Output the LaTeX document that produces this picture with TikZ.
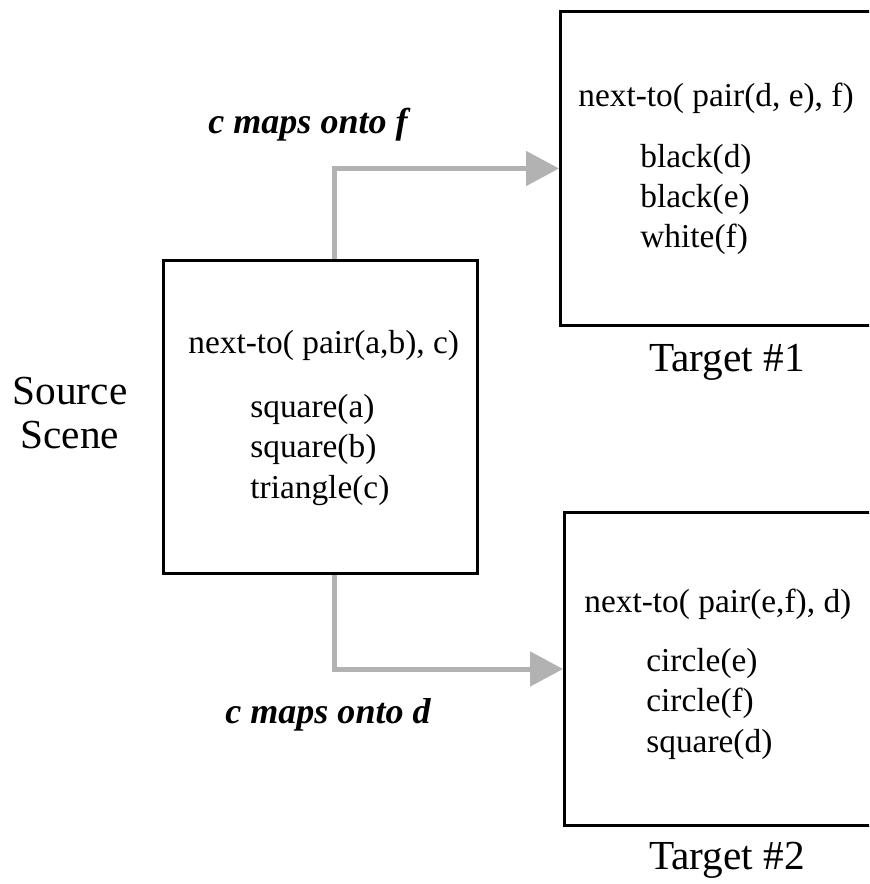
\documentclass[tikz,border=0pt]{standalone}
\usepackage{fontspec}
\setmainfont{Liberation Serif}
\usetikzlibrary{arrows.meta, positioning}

\begin{document}
\begin{tikzpicture}[x=0.02cm, y=-0.02cm,
    scene/.style={draw, line width=0.06cm, minimum width=6.28cm, minimum height=6.28cm, inner sep=0pt},
    wide/.style={scene, minimum width=6.76cm},
    facts/.style={anchor=base west, align=left, inner sep=0pt, font=\fontsize{19}{22.8}\selectfont},
    caption/.style={inner sep=0pt, align=center, font=\fontsize{23.5}{25.5}\selectfont},
    mapping/.style={inner sep=0pt, font=\fontsize{20.5}{24}\selectfont\bfseries\itshape},
    link/.style={draw=black!30, line width=0.1cm, -{Triangle[length=0.66cm, width=0.68cm]}}]
    \useasboundingbox (0,0) rectangle (869,884);
    \clip (0,0) rectangle (869,884);
    % scenes
    \node[scene] (source) at (320.5,417) {};
    \node[wide] (target1) at (729.5,168.5) {};
    \node[wide] (target2) at (733.5,669) {};
    % descriptions (base = last line)
    \node[facts] (srcrel) at (188,354) {next-to( pair(a,b), c)};
    \node[facts] (srcfacts) at (250,498) {square(a)\\square(b)\\triangle(c)};
    \node[facts] (t1rel) at (578,107) {next-to( pair(d, e), f)};
    \node[facts] (t1facts) at (640,248) {black(d)\\black(e)\\white(f)};
    \node[facts] (t2rel) at (584,612) {next-to( pair(e,f), d)};
    \node[facts] (t2facts) at (646,752) {circle(e)\\circle(f)\\square(d)};
    % captions
    \node[caption] (srclabel) at (70,413) {Source\\Scene};
    \node[caption] (t1label) at (727,362) {Target \#1};
    \node[caption] (t2label) at (727,860) {Target \#2};
    % mappings
    \draw[link] ([xshift=0.27cm]source.north) |- (target1.west);
    \draw[link] ([xshift=0.27cm]source.south) |- (target2.west);
    \node[mapping] (upmap) at (308,125) {c maps onto f};
    \node[mapping] (downmap) at (328,715) {c maps onto d};
\end{tikzpicture}
\end{document}
